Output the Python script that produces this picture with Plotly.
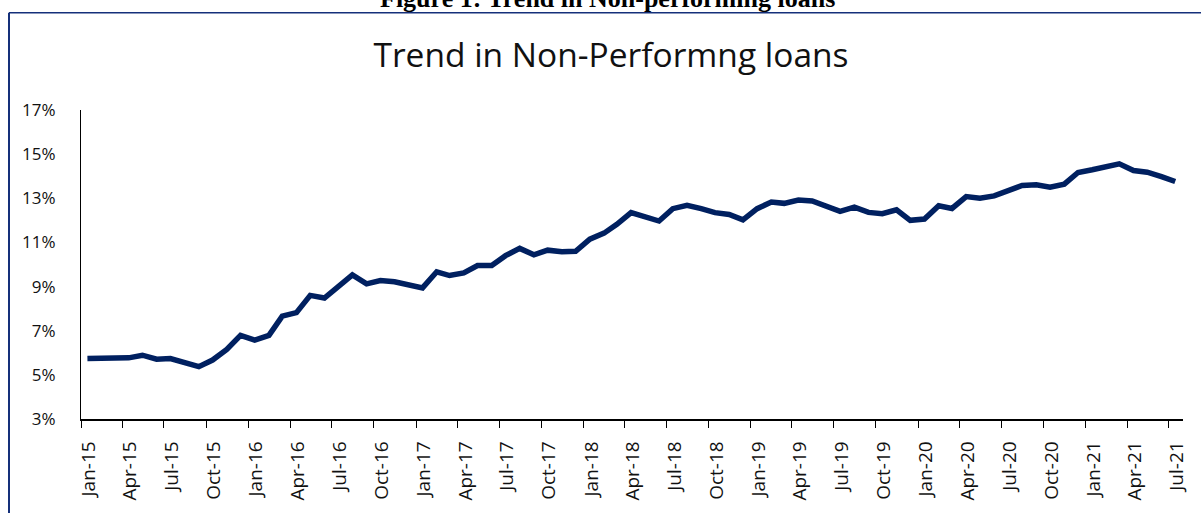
import pandas as pd
import plotly.graph_objects as go

# ---- data ----
start_month = "2015-01-01"
end_month = "2021-07-01"
npl_ratio = [
    5.74, 5.77, 5.74, 5.77, 5.89, 5.71, 5.74, 5.55, 5.37, 5.67, 6.15, 6.79,   # 2015
    6.57, 6.79, 7.66, 7.82, 8.60, 8.48, 9.02, 9.53, 9.12, 9.27, 9.22, 9.10,   # 2016
    8.94, 9.67, 9.50, 9.62, 9.95, 9.95, 10.40, 10.73, 10.44, 10.65, 10.58, 10.60,  # 2017
    11.15, 11.42, 11.82, 12.35, 12.15, 11.97, 12.53, 12.68, 12.53, 12.35, 12.27, 12.02,  # 2018
    12.53, 12.83, 12.77, 12.92, 12.88, 12.66, 12.41, 12.60, 12.36, 12.30, 12.48, 12.00,  # 2019
    12.06, 12.66, 12.54, 13.08, 13.00, 13.11, 13.31, 13.58, 13.61, 13.50, 13.64, 14.17,  # 2020
    14.29, 14.44, 14.56, 14.26, 14.18, 13.98, 13.76,                                     # 2021
]
y_ticks = [3, 5, 7, 9, 11, 13, 15, 17]
y_tick_labels = ["3%", "5%", "7%", "9%", "11%", "13%", "15%", "17%"]
chart_title = "Trend in Non-Performng loans"
figure_caption = "Figure 1: Trend in Non-performing loans"

months = pd.date_range(start_month, end_month, freq="MS")
x_points = months + pd.Timedelta(days=14)          # monthly observations plotted mid-month
quarter_ticks = pd.date_range(start_month, end_month, freq="QS")

W, H = 1201, 513
ml, mr, mt, mb = 81, 18, 110, 92
pw, ph = W - ml - mr, H - mt - mb

def px_x(X):
    return (X - ml) / pw

def px_y(Y):
    return (H - mb - Y) / ph

NAVY = "#002060"
FRAME = "#15307a"

fig = go.Figure()
fig.add_trace(go.Scatter(
    x=x_points, y=npl_ratio, mode="lines",
    line=dict(color=NAVY, width=5.5),
    hoverinfo="skip", showlegend=False,
))

fig.update_layout(
    width=W, height=H,
    margin=dict(l=ml, r=mr, t=mt, b=mb),
    paper_bgcolor="white", plot_bgcolor="white",
    font=dict(family="Open Sans", color="#1a1a1a", size=18),
    title=dict(
        text=chart_title, x=px_x(611), xref="paper", xanchor="center",
        y=1 - 55 / H, yref="container", yanchor="middle",
        font=dict(family="Open Sans", size=33.5, color="#111111"),
    ),
    xaxis=dict(
        type="date",
        range=["2015-01-01", "2021-08-01"],
        tickvals=quarter_ticks, tickformat="%b-%y",
        tickangle=-90,
        showline=True, linecolor="black", linewidth=1.5,
        ticks="outside", ticklen=7, tickwidth=1, tickcolor="black",
        showgrid=False, zeroline=False,
        tickfont=dict(family="Open Sans", size=19, color="#111111"),
        ticklabelstandoff=6, ticklabelshift=8,
    ),
    yaxis=dict(
        range=[3, 17], tickmode="array", tickvals=y_ticks, ticktext=y_tick_labels,
        showline=True, linecolor="black", linewidth=1,
        ticks="", showgrid=False, zeroline=False,
        tickfont=dict(family="Open Sans", size=17, color="#111111"),
        ticklabelstandoff=21,
    ),
    shapes=[
        dict(type="line", xref="paper", yref="paper",
             x0=px_x(9), x1=px_x(9), y0=px_y(12), y1=px_y(520),
             line=dict(color=FRAME, width=2)),
        dict(type="line", xref="paper", yref="paper",
             x0=px_x(9), x1=px_x(1210), y0=px_y(12), y1=px_y(12),
             line=dict(color=FRAME, width=1.5)),
    ],
    annotations=[
        dict(text="<b>" + figure_caption + "</b>", xref="paper", yref="paper",
             x=px_x(607), y=px_y(-2), xanchor="center", yanchor="middle",
             showarrow=False,
             font=dict(family="Liberation Serif", size=26, color="black")),
    ],
)

fig.write_html("out.html")
